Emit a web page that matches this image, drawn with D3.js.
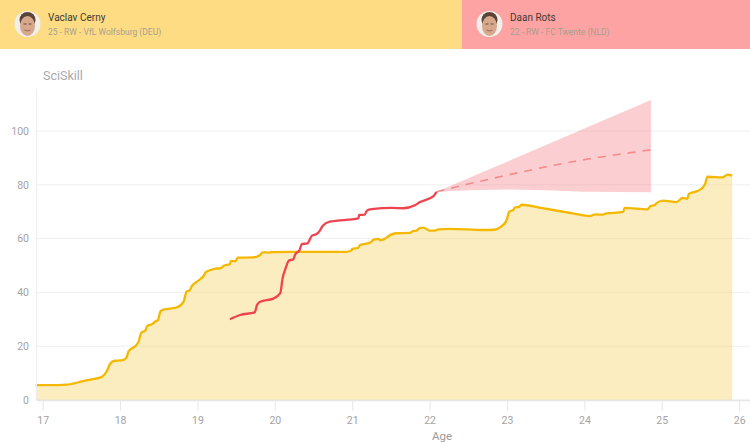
<!DOCTYPE html>
<html>
<head>
<meta charset="utf-8">
<script src="https://cdn.jsdelivr.net/npm/d3@7"></script>
<style>
  html, body { margin: 0; padding: 0; background: #fff; overflow: hidden; }
  text { font-family: Roboto, sans-serif; }
</style>
</head>
<body>
<script>
var ageTicks = [17, 18, 19, 20, 21, 22, 23, 24, 25, 26];
var skillTicks = [0, 20, 40, 60, 80, 100];

var cernyAges = [16.91, 17.1, 17.31, 17.52, 17.63, 17.74, 17.83, 17.87, 17.93, 18.02, 18.08, 18.11, 18.21, 18.24, 18.27, 18.33, 18.35, 18.42, 18.45, 18.49, 18.52, 18.56, 18.73, 18.82, 18.86, 18.9, 18.93, 19.02, 19.08, 19.11, 19.23, 19.3, 19.34, 19.42, 19.43, 19.49, 19.52, 19.72, 19.81, 19.84, 19.92, 19.95, 20.33, 20.92, 20.99, 21.0, 21.08, 21.1, 21.23, 21.28, 21.34, 21.36, 21.42, 21.49, 21.57, 21.75, 21.78, 21.83, 21.87, 21.92, 22.0, 22.07, 22.11, 22.26, 22.69, 22.84, 22.91, 22.99, 23.03, 23.08, 23.1, 23.16, 23.19, 23.42, 23.85, 24.07, 24.14, 24.24, 24.27, 24.5, 24.52, 24.82, 24.85, 24.91, 24.93, 25.02, 25.19, 25.27, 25.33, 25.35, 25.43, 25.49, 25.56, 25.59, 25.79, 25.85, 25.91];
var cernyValues = [5.5, 5.5, 5.7, 7, 7.7, 8.3, 10.8, 13.4, 14.6, 14.7, 15.6, 18.1, 20.4, 21.7, 24.8, 26, 27.5, 28.3, 29.1, 29.7, 32.8, 33.6, 34.4, 36.5, 40.3, 40.8, 42.4, 44.6, 46.1, 47.6, 48.8, 49, 49.9, 50.6, 51.6, 51.6, 52.9, 53, 53.9, 54.9, 54.8, 55, 55.1, 55.1, 55.6, 56.2, 56.6, 57.6, 58.5, 59.6, 59.9, 59.4, 59.9, 61.3, 62, 62.1, 62.8, 63, 63.9, 64.1, 63, 63, 63.4, 63.6, 63.2, 63.3, 64.2, 66.5, 70, 70.6, 71.5, 71.9, 72.6, 71.5, 69.4, 68.4, 69, 68.9, 69.3, 69.9, 71.4, 70.9, 72, 72.5, 73.2, 74.1, 73.6, 75.1, 74.8, 76.6, 77.4, 78.1, 80.3, 83, 82.8, 83.8, 83.4];

var rotsAges = [19.42, 19.55, 19.74, 19.77, 19.81, 19.98, 20.07, 20.1, 20.14, 20.18, 20.24, 20.26, 20.32, 20.35, 20.42, 20.48, 20.54, 20.58, 20.62, 20.71, 21.08, 21.09, 21.16, 21.19, 21.25, 21.51, 21.66, 21.81, 21.87, 22.05, 22.09];
var rotsValues = [30, 31.6, 32.6, 35.3, 36.5, 37.7, 39.7, 45.2, 49, 51.8, 52.3, 53.9, 55.8, 58, 58.2, 61.1, 61.7, 62.9, 64.8, 66.3, 67.5, 68.8, 68.9, 70.4, 71, 71.4, 71.3, 72.4, 73.5, 75.8, 77.4];

var projAges = [22.09, 22.5, 22.91, 23.77, 24.86];
var projValues = [77.4, 80.3, 83, 88.2, 93];
var projUpperAges = [22.09, 24.86];
var projUpper = [77.4, 111.5];
var projLowerAges = [22.09, 22.5, 23, 23.5, 24, 24.86];
var projLower = [77.4, 78, 78.3, 78, 77.4, 77.2];

var players = ["Vaclav Cerny", "Daan Rots"];
var playerInfo = ["25 - RW - VfL Wolfsburg (DEU)", "22 - RW - FC Twente (NLD)"];

var w = 750;
var h = 443;
var margin = {
  top: 88,
  bottom: 43,
  left: 36,
  right: 0
};

var svg = d3.select("body").append("svg")
      .attr("id", "chart")
      .attr("width", w)
      .attr("height", h);

// header bands
var bandX = d3.scaleOrdinal().domain(players).range([0, 462]);
var bandW = d3.scaleOrdinal().domain(players).range([462, 288]);
var bandColor = d3.scaleOrdinal().domain(players).range(["#fedc84", "#fea3a3"]);

var heads = svg.selectAll("g.head")
      .data(players)
      .enter().append("g")
      .attr("class", "head");
heads.append("rect")
      .attr("x", function(d) { return bandX(d); })
      .attr("y", 0)
      .attr("width", function(d) { return bandW(d); })
      .attr("height", 49)
      .attr("fill", function(d) { return bandColor(d); });

var avatars = heads.append("g")
      .attr("transform", function(d) { return "translate(" + (bandX(d) + 27.5) + ",24)"; });
avatars.append("circle").attr("r", 13).attr("fill", "#f0efeb");
avatars.append("ellipse").attr("cy", -4).attr("rx", 8).attr("ry", 8).attr("fill", "#5a4436");
avatars.append("ellipse").attr("cy", 2).attr("rx", 7.5).attr("ry", 10).attr("fill", "#d8a88c");
avatars.append("path")
      .attr("d", "M-4,0h3M1,0h3")
      .attr("stroke", "#6b4a3a")
      .attr("stroke-width", 1);
avatars.append("path")
      .attr("d", "M-3,6q3,2 6,0")
      .attr("stroke", "#9c6a58")
      .attr("stroke-width", 1)
      .attr("fill", "none");

heads.append("text")
      .attr("x", function(d) { return bandX(d) + 48; })
      .attr("y", 21)
      .attr("font-size", 10)
      .attr("fill", "#3f3a32")
      .text(function(d) { return d; });
heads.append("text")
      .attr("x", function(d) { return bandX(d) + 48; })
      .attr("y", 35)
      .attr("font-size", 8.5)
      .attr("fill", "#a89f8e")
      .text(function(d, i) { return playerInfo[i]; });

var x = d3.scaleLinear()
      .domain([16.914, 26.14])
      .range([margin.left, w - margin.right]);
var y = d3.scaleLinear()
      .domain([0, 116])
      .range([400, 88]);

var chart = svg.append("g").classed("display", true);

// grid
chart.selectAll("line.grid")
      .data(skillTicks)
      .enter().append("line")
      .attr("class", "grid")
      .attr("x1", x.range()[0])
      .attr("x2", x.range()[1])
      .attr("y1", function(d) { return y(d); })
      .attr("y2", function(d) { return y(d); })
      .attr("stroke", "#efefef")
      .attr("stroke-width", 1);

// Cerny area and line
var cernyPoints = d3.zip(cernyAges, cernyValues);
var area = d3.area()
      .x(function(d) { return x(d[0]); })
      .y0(y(0))
      .y1(function(d) { return y(d[1]); })
      .curve(d3.curveMonotoneX);
var line = d3.line()
      .x(function(d) { return x(d[0]); })
      .y(function(d) { return y(d[1]); })
      .curve(d3.curveMonotoneX);

chart.append("path")
      .attr("d", area(cernyPoints))
      .attr("fill", "#f9d66f")
      .attr("fill-opacity", 0.44);

// projection band, upper edge then lower edge back
var upperPoints = d3.zip(projUpperAges, projUpper);
var lowerPoints = d3.zip(projLowerAges, projLower).reverse();
chart.append("path")
      .attr("d", d3.line()
        .x(function(d) { return x(d[0]); })
        .y(function(d) { return y(d[1]); })(upperPoints.concat(lowerPoints)))
      .attr("fill", "#f4868d")
      .attr("fill-opacity", 0.4);

chart.append("path")
      .attr("d", line(d3.zip(projAges, projValues)))
      .attr("fill", "none")
      .attr("stroke", "#f58a8a")
      .attr("stroke-width", 1.6)
      .attr("stroke-dasharray", "8,7");

chart.append("path")
      .attr("d", line(cernyPoints))
      .attr("fill", "none")
      .attr("stroke", "#f5b800")
      .attr("stroke-width", 2.3);

chart.append("path")
      .attr("d", line(d3.zip(rotsAges, rotsValues)))
      .attr("fill", "none")
      .attr("stroke", "#ef4450")
      .attr("stroke-width", 2.3);

// axes
var xAxis = d3.axisBottom(x)
      .tickValues(ageTicks)
      .tickFormat(d3.format("d"))
      .tickSize(11)
      .tickSizeOuter(0)
      .tickPadding(6);
var yAxis = d3.axisLeft(y)
      .tickValues(skillTicks)
      .tickSize(0)
      .tickPadding(7);

var gx = chart.append("g")
      .attr("transform", "translate(0,400)")
      .call(xAxis);
var gy = chart.append("g")
      .attr("transform", "translate(" + margin.left + ",0)")
      .call(yAxis);

gx.select(".domain").attr("stroke", "#e6e6e6").attr("stroke-width", 1.5);
gy.select(".domain").attr("stroke", "#eeeeee");
gx.selectAll(".tick line").attr("stroke", "#e8e8e8");
chart.selectAll(".tick text")
      .attr("font-size", 10.5)
      .attr("font-family", "Roboto, sans-serif")
      .attr("fill", "#a3a3a3");

chart.append("text")
      .attr("x", 43)
      .attr("y", 80)
      .attr("font-size", 12.5)
      .attr("fill", "#a8a8ae")
      .text("SciSkill");

chart.append("text")
      .attr("x", 442)
      .attr("y", 440)
      .attr("text-anchor", "middle")
      .attr("font-size", 11.5)
      .attr("fill", "#9a9a9a")
      .text("Age");
</script>
</body>
</html>
